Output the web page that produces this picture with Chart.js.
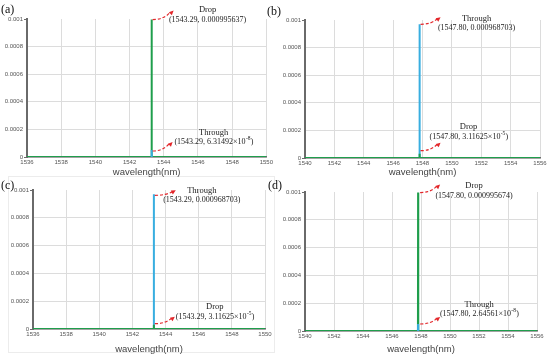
<!DOCTYPE html>
<html>
<head>
<meta charset="utf-8">
<script src="https://cdn.jsdelivr.net/npm/chart.js@4"></script>
<style>
  body { margin: 0; background: #fff; }
  #wrap { position: relative; width: 550px; height: 354px; }
  canvas { position: absolute; }
  #frameC { position: absolute; left: 8px; top: 176px; width: 265px; height: 175px; border: 1px solid #ececec; }
</style>
</head>
<body>
<div id="wrap">
  <div id="frameC"></div>
  <canvas id="chartA" width="275" height="177" style="left:0;top:0"></canvas>
  <canvas id="chartB" width="285" height="177" style="left:265px;top:0"></canvas>
  <canvas id="chartC" width="275" height="177" style="left:0;top:177px"></canvas>
  <canvas id="chartD" width="285" height="177" style="left:265px;top:177px"></canvas>
</div>
<script>
// wavelength axes
const xRangeA = [1536, 1550];
const xRangeB = [1540, 1556];
const xRangeC = [1536, 1550];
const xRangeD = [1540, 1556];

// panel (a): resonance at 1543.29
const wlA = [1536, 1543.28, 1543.29, 1543.3, 1550];
const dropA = [0, 0, 0.000995637, 0, 0];
const wlThroughA = [1543.28, 1543.29, 1543.3];
const throughA = [0, 0.00005, 0];

// panel (b): resonance at 1547.80
const wlB = [1540, 1547.79, 1547.8, 1547.81, 1556];
const dropB = [0, 0, 0.0000311625, 0, 0];
const wlThroughB = [1547.79, 1547.8, 1547.81];
const throughB = [0, 0.000968703, 0];

// panel (c)
const wlC = [1536, 1543.28, 1543.29, 1543.3, 1550];
const dropC = [0, 0, 0.0000311625, 0, 0];
const wlThroughC = [1543.28, 1543.29, 1543.3];
const throughC = [0, 0.000968703, 0];

// panel (d)
const wlD = [1540, 1547.79, 1547.8, 1547.81, 1556];
const dropD = [0, 0, 0.000995674, 0, 0];
const wlThroughD = [1547.79, 1547.8, 1547.81];
const throughD = [0, 0.00005, 0];

const GREEN = "#1f9e4c";
const CYAN = "#38aee0";
const RED = "#e3262a";

function pts(xs, ys) {
  return xs.map((x, i) => ({ x: x, y: ys[i] }));
}

// annotation: data anchor, start/end offsets of arrow, offset of value line
function note(name, x, y, head, sup, s, e, t) {
  return { name, x, y, head, sup, s, e, t };
}

const notesA = [
  note("Drop", 1543.29, 0.000995637, "(1543.29, 0.000995637)", null, [1, 0], [22, -9], [56, 0]),
  note("Through", 1543.29, 6.31492e-8, "(1543.29, 6.31492\u00d710", "-8", [1, -6], [21, -15], [62, -15]),
];
const notesB = [
  note("Through", 1547.8, 0.000968703, "(1547.80, 0.000968703)", null, [1, 0], [21, -7], [57, 4]),
  note("Drop", 1547.8, 0.0000311625, "(1547.80, 3.11625\u00d710", "-5", [1, -3], [21, -11], [49, -17]),
];
const notesC = [
  note("Through", 1543.29, 0.000968703, "(1543.29, 0.000968703)", null, [1, 1], [22, -4], [48, 6]),
  note("Drop", 1543.29, 0.0000311625, "(1543.29, 3.11625\u00d710", "-5", [1, -1], [21, -8], [61, -8]),
];
const notesD = [
  note("Drop", 1547.8, 0.000995674, "(1547.80, 0.000995674)", null, [2, 0], [22, -8], [56, 3]),
  note("Through", 1547.8, 2.64561e-8, "(1547.80, 2.64561\u00d710", "-8", [2, -7], [22, -14], [61, -17]),
];

const notePlugin = {
  id: "notes",
  afterDraw(chart, args, opts) {
    const ctx = chart.ctx;
    const xs = chart.scales.x, ys = chart.scales.y;
    ctx.save();
    // panel letter
    ctx.fillStyle = "#111";
    ctx.font = "12px 'Liberation Serif'";
    ctx.textBaseline = "alphabetic";
    ctx.textAlign = "left";
    ctx.fillText(opts.letter, opts.letterX, opts.letterY);

    opts.notes.forEach((n) => {
      const px = xs.getPixelForValue(n.x);
      const py = ys.getPixelForValue(n.y);
      const sx = px + n.s[0], sy = py + n.s[1];
      const ex = px + n.e[0], ey = py + n.e[1];
      const cx = sx + (ex - sx) * 0.55, cy = sy;
      // dashed curve
      ctx.strokeStyle = RED;
      ctx.lineWidth = 1.2;
      ctx.setLineDash([3, 2]);
      ctx.beginPath();
      ctx.moveTo(sx, sy);
      ctx.quadraticCurveTo(cx, cy, ex - 3, ey + 1.2);
      ctx.stroke();
      ctx.setLineDash([]);
      // head
      const ang = Math.atan2(ey - cy, ex - cx);
      ctx.fillStyle = RED;
      ctx.beginPath();
      ctx.moveTo(ex, ey);
      ctx.lineTo(ex - 5 * Math.cos(ang - 0.45), ey - 5 * Math.sin(ang - 0.45));
      ctx.lineTo(ex - 5 * Math.cos(ang + 0.45), ey - 5 * Math.sin(ang + 0.45));
      ctx.closePath();
      ctx.fill();

      // labels
      const tx = px + n.t[0], ty = py + n.t[1];
      ctx.fillStyle = "#222";
      ctx.textBaseline = "middle";
      ctx.font = "8.5px 'Liberation Serif'";
      ctx.textAlign = "center";
      ctx.fillText(n.name, tx, ty - 9.5);
      ctx.font = "8px 'Liberation Serif'";
      if (!n.sup) {
        ctx.fillText(n.head, tx, ty);
      } else {
        ctx.textAlign = "left";
        const w1 = ctx.measureText(n.head).width;
        ctx.font = "5.5px 'Liberation Serif'";
        const w2 = ctx.measureText(n.sup).width;
        ctx.font = "8px 'Liberation Serif'";
        const w3 = ctx.measureText(")").width;
        let x0 = tx - (w1 + w2 + w3) / 2;
        ctx.fillText(n.head, x0, ty);
        ctx.font = "5.5px 'Liberation Serif'";
        ctx.fillText(n.sup, x0 + w1 + 0.3, ty - 3);
        ctx.font = "8px 'Liberation Serif'";
        ctx.fillText(")", x0 + w1 + w2 + 0.6, ty);
      }
    });
    ctx.restore();
  },
};

function makePanel(id, p) {
  const lastY = 5;
  new Chart(document.getElementById(id), {
    type: "line",
    data: {
      datasets: [
        {
          label: "Drop",
          data: pts(p.wl, p.drop),
          borderColor: GREEN,
          borderWidth: 2,
          pointRadius: 0,
          tension: 0,
          order: p.dropOnTop ? 0 : 1,
        },
        {
          label: "Through",
          data: pts(p.wlT, p.through),
          borderColor: CYAN,
          borderWidth: 2,
          pointRadius: 0,
          tension: 0,
          order: p.dropOnTop ? 1 : 0,
        },
      ],
    },
    options: {
      responsive: false,
      animation: false,
      layout: { padding: { left: 0, top: p.top, right: p.right, bottom: 0 } },
      plugins: {
        legend: { display: false },
        tooltip: { enabled: false },
        notes: { notes: p.notes, letter: p.letter, letterX: p.letterX, letterY: p.letterY },
      },
      scales: {
        x: {
          type: "linear",
          min: p.range[0],
          max: p.range[1],
          afterFit: (s) => { s.height = 177 - p.bottom; },
          ticks: {
            stepSize: 2,
            padding: 2,
            color: "#555",
            font: { family: "'Liberation Sans'", size: 6 },
            callback: (v) => String(v),
            maxRotation: 0,
            autoSkip: false,
          },
          grid: { color: "#dcdcdc", lineWidth: 1, tickLength: 0 },
          border: { color: "#6a6a6a", width: 1.5 },
          title: {
            display: true,
            text: "wavelength(nm)",
            color: "#444",
            padding: 0,
            font: { family: "'Liberation Sans'", size: 9.5, lineHeight: 1 },
          },
        },
        y: {
          min: 0,
          max: 0.001,
          afterFit: (s) => { s.width = p.left; },
          ticks: {
            stepSize: 0.0002,
            padding: 1,
            color: "#555",
            font: { family: "'Liberation Sans'", size: 6 },
            callback: (v) => (v === 0 ? "0" : String(parseFloat(v.toFixed(4)))),
          },
          grid: {
            color: (c) => (c.index === lastY ? "rgba(0,0,0,0)" : "#dcdcdc"),
            tickColor: (c) => (c.index === 0 || c.index === lastY ? "#6a6a6a" : "rgba(0,0,0,0)"),
            tickLength: 3,
            lineWidth: 1,
          },
          border: { color: "#6a6a6a", width: 2 },
        },
      },
    },
    plugins: [notePlugin],
  });
}

makePanel("chartA", {
  range: xRangeA, wl: wlA, drop: dropA, wlT: wlThroughA, through: throughA, dropOnTop: false,
  notes: notesA, letter: "(a)", letterX: 1, letterY: 13,
  left: 27, right: 8, top: 19, bottom: 157,
});
makePanel("chartB", {
  range: xRangeB, wl: wlB, drop: dropB, wlT: wlThroughB, through: throughB, dropOnTop: true,
  notes: notesB, letter: "(b)", letterX: 2, letterY: 15,
  left: 40, right: 10, top: 20, bottom: 158,
});
makePanel("chartC", {
  range: xRangeC, wl: wlC, drop: dropC, wlT: wlThroughC, through: throughC, dropOnTop: true,
  notes: notesC, letter: "(c)", letterX: 1, letterY: 12,
  left: 33, right: 10, top: 13, bottom: 152,
});
makePanel("chartD", {
  range: xRangeD, wl: wlD, drop: dropD, wlT: wlThroughD, through: throughD, dropOnTop: false,
  notes: notesD, letter: "(d)", letterX: 3, letterY: 12,
  left: 40, right: 13, top: 15, bottom: 154,
});
</script>
</body>
</html>
